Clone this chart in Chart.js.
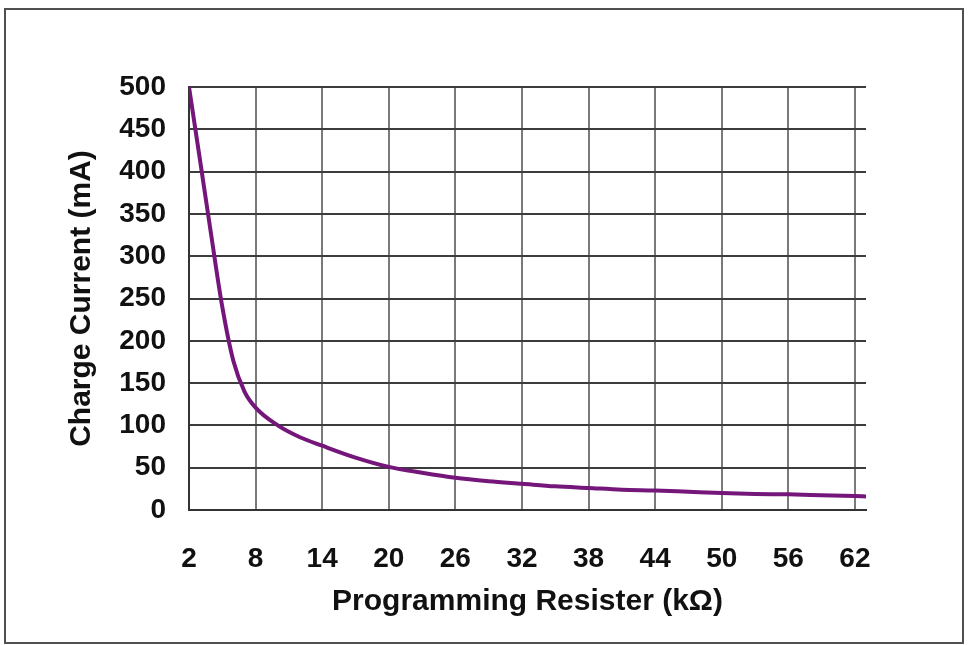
<!DOCTYPE html>
<html>
<head>
<meta charset="utf-8">
<script src="https://cdn.jsdelivr.net/npm/chart.js@4.4.1/dist/chart.umd.min.js"></script>
<style>
  html, body { margin: 0; padding: 0; background: #ffffff; }
  #wrap { position: relative; width: 968px; height: 645px; }
</style>
</head>
<body>
<div id="wrap"><canvas id="c" width="968" height="645"></canvas></div>
<script>
// Data
const resistanceK = [2, 3, 4, 5, 6, 7, 8, 10, 12, 14, 17, 20, 23, 26, 29, 32, 35, 38, 41, 44, 47, 50, 53, 56, 59, 62, 63];
const chargeCurrentMA = [500, 413, 325, 240, 176, 140, 121, 100, 86, 76, 62, 51, 44, 38, 34, 31, 28, 26, 24, 23, 21.5, 20, 19, 18.5, 17.5, 16.5, 16];
const xTickValues = [2, 8, 14, 20, 26, 32, 38, 44, 50, 56, 62];
const yTickValues = [0, 50, 100, 150, 200, 250, 300, 350, 400, 450, 500];
const xTitle = 'Programming Resister (kΩ)';
const yTitle = 'Charge Current (mA)';

const points = resistanceK.map((x, i) => ({ x: x, y: chargeCurrentMA[i] }));

const framePlugin = {
  id: 'frame',
  beforeDraw(chart) {
    const ctx = chart.ctx;
    ctx.save();
    ctx.fillStyle = '#ffffff';
    ctx.fillRect(0, 0, chart.width, chart.height);
    ctx.strokeStyle = '#505050';
    ctx.lineWidth = 2;
    ctx.strokeRect(5, 9, 958, 634);
    ctx.restore();
  }
};

const FONT = '"Liberation Sans", Arial, sans-serif';

new Chart(document.getElementById('c'), {
  type: 'line',
  data: {
    datasets: [{
      data: points,
      borderColor: '#74167a',
      borderWidth: 4,
      pointRadius: 0,
      fill: false,
      cubicInterpolationMode: 'monotone'
    }]
  },
  options: {
    responsive: false,
    animation: false,
    events: [],
    layout: { padding: { left: 60, top: 87, right: 102, bottom: 20 } },
    plugins: { legend: { display: false }, tooltip: { enabled: false } },
    scales: {
      x: {
        type: 'linear',
        min: 2,
        max: 63,
        afterBuildTicks(scale) { scale.ticks = xTickValues.map(v => ({ value: v })); },
        afterFit(scale) { scale.height = 115; },
        grid: { color: '#7a7a7a', lineWidth: 2, drawTicks: false },
        border: { display: true, color: '#333333', width: 2 },
        ticks: {
          color: '#111111',
          font: { family: FONT, size: 28, weight: 'bold' },
          padding: 32,
          maxRotation: 0,
          autoSkip: false
        },
        title: {
          display: true,
          text: xTitle,
          color: '#111111',
          font: { family: FONT, size: 30, weight: 'bold' },
          padding: { top: 0, bottom: 5 }
        }
      },
      y: {
        type: 'linear',
        min: 0,
        max: 500,
        afterBuildTicks(scale) { scale.ticks = yTickValues.map(v => ({ value: v })); },
        afterFit(scale) { scale.width = 129; },
        grid: { color: '#3c3c3c', lineWidth: 2, drawTicks: false },
        border: { display: true, color: '#333333', width: 2 },
        ticks: {
          color: '#111111',
          font: { family: FONT, size: 28, weight: 'bold' },
          padding: 23
        },
        title: {
          display: true,
          text: yTitle,
          color: '#111111',
          font: { family: FONT, size: 30, weight: 'bold' },
          padding: { top: 4, bottom: 0 }
        }
      }
    }
  },
  plugins: [framePlugin]
});
</script>
</body>
</html>
